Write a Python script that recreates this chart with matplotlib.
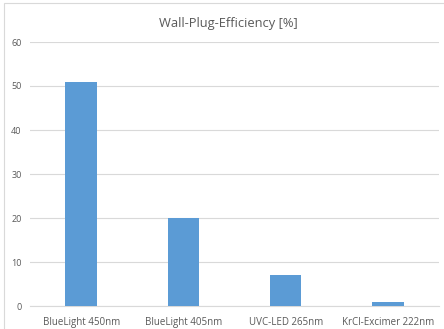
import matplotlib
matplotlib.use("Agg")
import matplotlib.pyplot as plt
from matplotlib.patches import Rectangle

categories = ["BlueLight 450nm", "BlueLight 405nm", "UVC-LED 265nm", "KrCl-Excimer 222nm"]
efficiency = [51, 20, 7, 1]
yticks = [0, 10, 20, 30, 40, 50, 60]
title = "Wall-Plug-Efficiency [%]"

plt.rcParams["font.family"] = ["Open Sans", "DejaVu Sans"]

fig = plt.figure(figsize=(4.44, 3.29), dpi=100)
fig.patch.set_facecolor("white")

# chart frame
fig.add_artist(Rectangle((4 / 444, -0.05), 1.1, 1 - 3 / 329 + 0.05,
                         transform=fig.transFigure, fill=False,
                         edgecolor="#d9d9d9", linewidth=0.8))

ax = fig.add_axes([30 / 444, 1 - 306 / 329, 409 / 444, (306 - 42) / 329])
x = range(len(categories))
ax.bar(x, efficiency, width=0.31, color="#5b9bd5", zorder=3)

ax.set_ylim(0, 60)
ax.set_xlim(-0.5, len(categories) - 0.5)
ax.set_yticks(yticks)
ax.set_xticks(list(x))
ax.set_xticklabels(categories)
ax.grid(axis="y", color="#d9d9d9", linewidth=0.8, zorder=0)
for s in ["top", "right", "left"]:
    ax.spines[s].set_visible(False)
ax.spines["bottom"].set_color("#d9d9d9")
ax.spines["bottom"].set_linewidth(0.8)
ax.tick_params(axis="both", length=0, colors="#595959")
ax.tick_params(axis="y", labelsize=6.5, pad=6)
ax.tick_params(axis="x", labelsize=7, pad=8)

fig.text(228 / 444, 1 - 23 / 329, title, ha="center", va="center",
         fontsize=9.3, color="#595959")

fig.savefig("out.png", dpi=100)
